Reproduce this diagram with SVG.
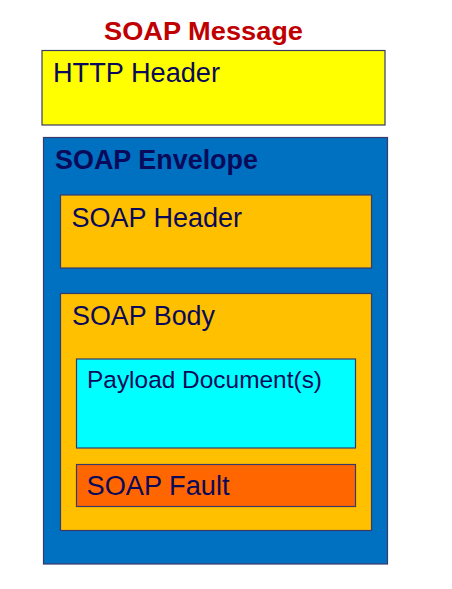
<svg xmlns="http://www.w3.org/2000/svg" width="452" height="589" viewBox="0 0 452 589">
<style>
.box{stroke:#3a3a6a;stroke-width:1.2}
.t{font-family:"Liberation Sans",Arial,sans-serif;fill:#0a0a5a;font-size:27px}
.b{font-weight:bold}
</style>
<rect width="452" height="589" fill="#ffffff"/>
<g id="title"><text class="t b" x="203.5" y="40" text-anchor="middle" fill="#c00000" style="fill:#c00000;font-size:26px" textLength="199" lengthAdjust="spacingAndGlyphs">SOAP Message</text></g>
<g id="http-header">
<rect class="box" x="42" y="50.5" width="343" height="74.5" fill="#ffff00"/>
<text class="t" x="53" y="82" textLength="167" lengthAdjust="spacingAndGlyphs">HTTP Header</text>
</g>
<g id="soap-envelope">
<rect class="box" x="43.5" y="137.5" width="344" height="426.5" fill="#0070c0"/>
<text class="t b" x="55" y="169" textLength="203" lengthAdjust="spacingAndGlyphs">SOAP Envelope</text>
</g>
<g id="soap-header">
<rect class="box" x="60.5" y="195" width="311" height="73" fill="#ffc000"/>
<text class="t" x="71.5" y="226.5">SOAP Header</text>
</g>
<g id="soap-body">
<rect class="box" x="60.5" y="293.5" width="311" height="237" fill="#ffc000"/>
<text class="t" x="72" y="325" textLength="143" lengthAdjust="spacingAndGlyphs">SOAP Body</text>
</g>
<g id="payload">
<rect class="box" x="76.5" y="359" width="279" height="89" fill="#00ffff"/>
<text class="t" x="87" y="388" style="font-size:24.5px" textLength="235" lengthAdjust="spacingAndGlyphs">Payload Document(s)</text>
</g>
<g id="soap-fault">
<rect class="box" x="76.5" y="464.5" width="279" height="42" fill="#ff6600"/>
<text class="t" x="86.5" y="495" textLength="143" lengthAdjust="spacingAndGlyphs">SOAP Fault</text>
</g>
<g id="connectors"></g>
</svg>
